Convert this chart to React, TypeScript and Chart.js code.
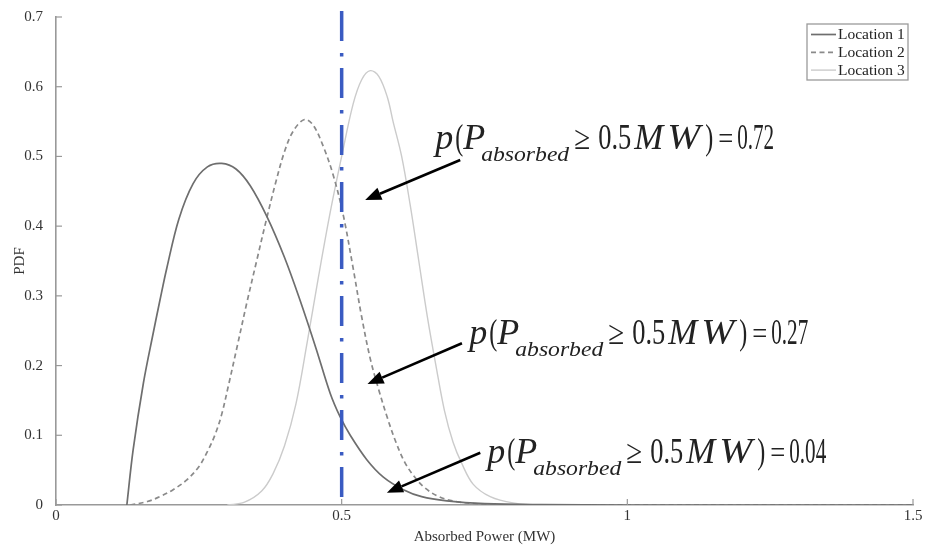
import React, { useEffect, useRef } from "react";
import { Chart, registerables } from "chart.js";
Chart.register(...registerables);

// ---- data ----
const seriesNames = ["Location 1", "Location 2", "Location 3"];

const loc1X = [0.124, 0.135, 0.153, 0.17, 0.182, 0.194, 0.215, 0.24, 0.265, 0.29, 0.315, 0.34, 0.369, 0.4, 0.427, 0.455, 0.48, 0.497, 0.515, 0.544, 0.573, 0.608, 0.64, 0.684, 0.75, 0.85, 1.0, 1.5];
const loc1Y = [0, 0.079, 0.175, 0.246, 0.294, 0.34, 0.41, 0.461, 0.485, 0.49, 0.482, 0.458, 0.414, 0.355, 0.294, 0.225, 0.16, 0.127, 0.1, 0.065, 0.04, 0.022, 0.012, 0.006, 0.002, 0.0005, 0, 0];

const loc2X = [0.13, 0.16, 0.182, 0.205, 0.229, 0.25, 0.264, 0.278, 0.29, 0.302, 0.317, 0.334, 0.352, 0.369, 0.385, 0.4, 0.415, 0.435, 0.45, 0.468, 0.486, 0.503, 0.52, 0.535, 0.55, 0.565, 0.58, 0.595, 0.61, 0.626, 0.645, 0.67, 0.7, 0.75, 0.8, 1.5];
const loc2Y = [0, 0.005, 0.012, 0.022, 0.036, 0.055, 0.075, 0.1, 0.13, 0.172, 0.227, 0.29, 0.353, 0.412, 0.464, 0.507, 0.536, 0.553, 0.545, 0.514, 0.471, 0.415, 0.34, 0.27, 0.21, 0.165, 0.125, 0.09, 0.062, 0.042, 0.025, 0.012, 0.005, 0.001, 0, 0];

const loc3X = [0.3, 0.33, 0.36, 0.38, 0.4, 0.42, 0.44, 0.46, 0.48, 0.5, 0.52, 0.535, 0.55, 0.565, 0.58, 0.59, 0.605, 0.62, 0.635, 0.65, 0.665, 0.68, 0.695, 0.71, 0.73, 0.76, 0.8, 0.85, 1.5];
const loc3Y = [0, 0.004, 0.02, 0.045, 0.085, 0.145, 0.235, 0.33, 0.42, 0.5, 0.575, 0.61, 0.623, 0.615, 0.585, 0.55, 0.5, 0.43, 0.35, 0.27, 0.2, 0.135, 0.09, 0.06, 0.03, 0.012, 0.003, 0, 0];

const xTicks = [0, 0.5, 1, 1.5];
const yTicks = [0, 0.1, 0.2, 0.3, 0.4, 0.5, 0.6, 0.7];
const xTitle = "Absorbed Power (MW)";
const yTitle = "PDF";

const threshold = 0.5;
const probValues = ["0.72", "0.27", "0.04"];
// annotation anchors (data units)
const annoTextX = [0.6637, 0.7233, 0.7548];
const annoTextY = [0.5107, 0.231, 0.0602];
const arrowFromX = [0.7075, 0.7105, 0.7426];
const arrowFromY = [0.4949, 0.232, 0.075];
const arrowToX = [0.5412, 0.5452, 0.5791];
const arrowToY = [0.4375, 0.1736, 0.0177];

// ---- styles ----
const SERIF = '"Liberation Serif", "Times New Roman", serif';
const lineStyles = [
  { color: "#6e6e6e", width: 1.7, dash: [] as number[] },
  { color: "#8a8a8a", width: 1.7, dash: [5, 3.5] },
  { color: "#cbcbcb", width: 1.4, dash: [] as number[] },
];

const annotationPlugin = {
  id: "annotations",
  afterDatasetsDraw(chart: any) {
    const { ctx, chartArea, scales } = chart;
    const xs = scales.x;
    const ys = scales.y;
    ctx.save();

    // threshold dash-dot line
    const bx = xs.getPixelForValue(threshold);
    ctx.strokeStyle = "#3a5bc2";
    ctx.lineWidth = 3.5;
    ctx.setLineDash([30, 12, 3.5, 11.5]);
    ctx.beginPath();
    ctx.moveTo(bx, chartArea.top - 6);
    ctx.lineTo(bx, ys.getPixelForValue(0));
    ctx.stroke();
    ctx.setLineDash([]);

    // arrows
    for (let i = 0; i < probValues.length; i++) {
      const x1 = xs.getPixelForValue(arrowFromX[i]);
      const y1 = ys.getPixelForValue(arrowFromY[i]);
      const x2 = xs.getPixelForValue(arrowToX[i]);
      const y2 = ys.getPixelForValue(arrowToY[i]);
      const ang = Math.atan2(y2 - y1, x2 - x1);
      const hl = 16, hw = 6.5;
      const bxp = x2 - hl * Math.cos(ang);
      const byp = y2 - hl * Math.sin(ang);
      ctx.strokeStyle = "#000";
      ctx.lineWidth = 2.6;
      ctx.beginPath();
      ctx.moveTo(x1, y1);
      ctx.lineTo(bxp, byp);
      ctx.stroke();
      ctx.fillStyle = "#000";
      ctx.beginPath();
      ctx.moveTo(x2, y2);
      ctx.lineTo(bxp + hw * Math.sin(ang), byp - hw * Math.cos(ang));
      ctx.lineTo(bxp - hw * Math.sin(ang), byp + hw * Math.cos(ang));
      ctx.closePath();
      ctx.fill();
    }

    // texts
    for (let i = 0; i < probValues.length; i++) {
      const ax = xs.getPixelForValue(annoTextX[i]);
      const ay = ys.getPixelForValue(annoTextY[i]);
      const segs = [
        { t: "p", it: true, s: 26, dx: 0, w: 18, dy: 0, sy: 1.35 },
        { t: "(", it: false, s: 26, dx: 20, w: 8, dy: 0, sy: 1.35 },
        { t: "P", it: true, s: 26, dx: 28, w: 22, dy: 0, sy: 1.35 },
        { t: "absorbed", it: true, s: 22, dx: 46, w: 88, dy: 12, sy: 1.0 },
        { t: "\u2265", it: false, s: 26, dx: 139, w: 16, dy: 0, sy: 1.3 },
        { t: "0.5", it: false, s: 26, dx: 163, w: 33, dy: 0, sy: 1.38 },
        { t: "M", it: true, s: 27, dx: 199, w: 29, dy: 0, sy: 1.3 },
        { t: "W", it: true, s: 27, dx: 232, w: 33, dy: 0, sy: 1.3 },
        { t: ")", it: false, s: 26, dx: 270, w: 8, dy: 0, sy: 1.35 },
        { t: "=", it: false, s: 26, dx: 283, w: 15, dy: 0, sy: 1.2 },
        { t: probValues[i], it: false, s: 26, dx: 302, w: 37, dy: 0, sy: 1.4 },
      ];
      ctx.fillStyle = "#222";
      ctx.textBaseline = "alphabetic";
      ctx.textAlign = "left";
      for (const g of segs) {
        ctx.save();
        ctx.font = `${g.it ? "italic " : ""}${g.s}px ${SERIF}`;
        const mw = ctx.measureText(g.t).width || 1;
        ctx.translate(ax + g.dx, ay + g.dy);
        ctx.scale(g.w / mw, g.sy);
        ctx.fillText(g.t, 0, 0);
        ctx.restore();
      }
    }

    // inward ticks
    ctx.strokeStyle = "#999";
    ctx.lineWidth = 1.2;
    const bottom = ys.getPixelForValue(0);
    const left = xs.getPixelForValue(0);
    for (const v of xTicks) {
      const px = xs.getPixelForValue(v);
      ctx.beginPath();
      ctx.moveTo(px, bottom);
      ctx.lineTo(px, bottom - 6);
      ctx.stroke();
    }
    for (const v of yTicks) {
      const py = ys.getPixelForValue(v);
      ctx.beginPath();
      ctx.moveTo(left, py);
      ctx.lineTo(left + 6, py);
      ctx.stroke();
    }

    // legend box
    const boxR = chartArea.right - 5;
    const boxT = chartArea.top + 7;
    const boxW = 101;
    const boxH = 56;
    const boxL = boxR - boxW;
    ctx.fillStyle = "#fff";
    ctx.fillRect(boxL, boxT, boxW, boxH);
    ctx.strokeStyle = "#9a9a9a";
    ctx.lineWidth = 1.3;
    ctx.strokeRect(boxL, boxT, boxW, boxH);
    ctx.font = `15.5px ${SERIF}`;
    ctx.textBaseline = "middle";
    for (let i = 0; i < seriesNames.length; i++) {
      const cy = boxT + 10.5 + i * 17.8;
      const st = lineStyles[i];
      ctx.strokeStyle = st.color;
      ctx.lineWidth = st.width;
      ctx.setLineDash(st.dash);
      ctx.beginPath();
      ctx.moveTo(boxL + 4, cy);
      ctx.lineTo(boxL + 29, cy);
      ctx.stroke();
      ctx.setLineDash([]);
      ctx.fillStyle = "#222";
      ctx.fillText(seriesNames[i], boxL + 31, cy + 0.5);
    }
    ctx.restore();
  },
};

export default function App() {
  const ref = useRef<HTMLCanvasElement | null>(null);
  useEffect(() => {
    document.body.style.margin = "0";
    const canvas = ref.current;
    if (!canvas) return;
    const xsArr = [loc1X, loc2X, loc3X];
    const ysArr = [loc1Y, loc2Y, loc3Y];
    const chart = new Chart(canvas, {
      type: "line",
      data: {
        datasets: seriesNames.map((name, i) => ({
          label: name,
          data: xsArr[i].map((x, j) => ({ x, y: ysArr[i][j] })),
          borderColor: lineStyles[i].color,
          borderWidth: lineStyles[i].width,
          borderDash: lineStyles[i].dash,
          pointRadius: 0,
          fill: false,
          tension: 0.35,
        })),
      },
      options: {
        animation: false,
        responsive: false,
        maintainAspectRatio: false,
        layout: { padding: { left: 0, right: 12, top: 17, bottom: 0 } },
        plugins: { legend: { display: false }, tooltip: { enabled: false } },
        scales: {
          x: {
            type: "linear",
            min: 0,
            max: 1.5,
            afterBuildTicks: (s: any) => {
              s.ticks = xTicks.map((v) => ({ value: v }));
            },
            afterFit: (s: any) => {
              s.height = 46;
              s.paddingLeft = 0;
              s.paddingRight = 0;
            },
            ticks: {
              callback: (v: any) => String(Number(Number(v).toFixed(2))),
              font: { family: SERIF, size: 15 },
              color: "#333",
              padding: 2,
              maxRotation: 0,
            },
            grid: { display: false, drawTicks: false },
            border: { display: true, color: "#999", width: 1.6 },
            title: {
              display: true,
              text: xTitle,
              font: { family: SERIF, size: 15 },
              color: "#333",
              padding: { top: 0, bottom: 5 },
            },
          },
          y: {
            type: "linear",
            min: 0,
            max: 0.7,
            afterBuildTicks: (s: any) => {
              s.ticks = yTicks.map((v) => ({ value: v }));
            },
            afterFit: (s: any) => {
              s.width = 56;
              s.paddingTop = 0;
              s.paddingBottom = 0;
            },
            ticks: {
              callback: (v: any) => String(Number(Number(v).toFixed(2))),
              font: { family: SERIF, size: 15 },
              color: "#333",
              padding: 13,
            },
            grid: { display: false, drawTicks: false },
            border: { display: true, color: "#999", width: 1.6 },
            title: {
              display: true,
              text: yTitle,
              font: { family: SERIF, size: 15 },
              color: "#333",
              padding: { top: 11, bottom: 0 },
            },
          },
        },
      },
      plugins: [annotationPlugin],
    } as any);
    return () => chart.destroy();
  }, []);
  return (
    <div style={{ width: 925, height: 551 }}>
      <canvas ref={ref} width={925} height={551} style={{ display: "block" }} />
    </div>
  );
}
